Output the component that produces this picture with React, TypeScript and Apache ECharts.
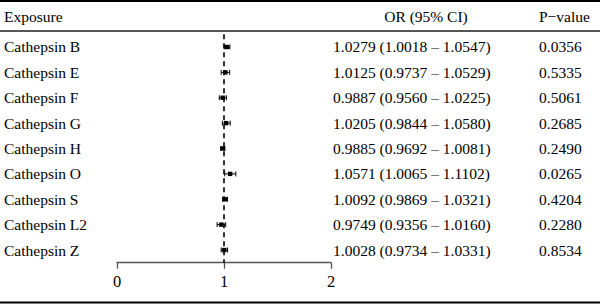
import React, { useEffect, useRef } from "react";
import * as echarts from "echarts";

const exposures = [
  "Cathepsin B",
  "Cathepsin E",
  "Cathepsin F",
  "Cathepsin G",
  "Cathepsin H",
  "Cathepsin O",
  "Cathepsin S",
  "Cathepsin L2",
  "Cathepsin Z",
];
const orValues = [1.0279, 1.0125, 0.9887, 1.0205, 0.9885, 1.0571, 1.0092, 0.9749, 1.0028];
const ciLow = [1.0018, 0.9737, 0.956, 0.9844, 0.9692, 1.0065, 0.9869, 0.9356, 0.9734];
const ciHigh = [1.0547, 1.0529, 1.0225, 1.058, 1.0081, 1.1102, 1.0321, 1.016, 1.0331];
const pValues = ["0.0356", "0.5335", "0.5061", "0.2685", "0.2490", "0.0265", "0.4204", "0.2280", "0.8534"];
const xTicks = [0, 1, 2];

const FONT = "Liberation Serif";
const FS = 15.5;

export default function App() {
  const ref = useRef<HTMLDivElement>(null);
  useEffect(() => {
    if (!ref.current) return;
    const chart = echarts.init(ref.current, null, { renderer: "svg" });
    const orText = orValues.map(
      (v, i) => `${v.toFixed(4)} (${ciLow[i].toFixed(4)} – ${ciHigh[i].toFixed(4)})`
    );
    const data = exposures.map((_, i) => [orValues[i], i, ciLow[i], ciHigh[i]]);
    const gridLeft = 117;
    const gridRight = 600 - 331;
    chart.setOption({
      animation: false,
      textStyle: { fontFamily: FONT },
      grid: { left: gridLeft, right: gridRight, top: 34.3, bottom: 304 - 262.7 },
      xAxis: {
        type: "value",
        min: 0,
        max: 2,
        interval: 1,
        splitLine: { show: false },
        axisLine: { show: true, lineStyle: { color: "#555", width: 1.3 } },
        axisTick: { show: true, length: 6, lineStyle: { color: "#555", width: 1.3 } },
        axisLabel: {
          color: "#000",
          fontFamily: FONT,
          fontSize: 16.5,
          margin: 10,
          formatter: (v: number) => (xTicks.includes(v) ? String(v) : ""),
        },
      },
      yAxis: [
        {
          type: "category",
          data: exposures,
          inverse: true,
          axisLine: { show: false },
          axisTick: { show: false },
          splitLine: { show: false },
          axisLabel: { align: "left", margin: gridLeft - 4, color: "#000", fontFamily: FONT, fontSize: FS },
        },
        {
          type: "category",
          data: exposures,
          inverse: true,
          position: "right",
          axisLine: { show: false },
          axisTick: { show: false },
          splitLine: { show: false },
          axisLabel: {
            align: "left",
            margin: 2,
            color: "#000",
            fontFamily: FONT,
            fontSize: FS,
            formatter: (_v: string, i: number) => orText[i],
          },
        },
        {
          type: "category",
          data: exposures,
          inverse: true,
          position: "right",
          axisLine: { show: false },
          axisTick: { show: false },
          splitLine: { show: false },
          axisLabel: {
            align: "left",
            margin: 539 - 331,
            color: "#000",
            fontFamily: FONT,
            fontSize: FS,
            formatter: (_v: string, i: number) => pValues[i],
          },
        },
      ],
      graphic: [
        { type: "line", shape: { x1: 0, y1: 1, x2: 600, y2: 1 }, style: { stroke: "#000", lineWidth: 2 } },
        { type: "line", shape: { x1: 0, y1: 31, x2: 600, y2: 31 }, style: { stroke: "#555", lineWidth: 2 } },
        { type: "line", shape: { x1: 0, y1: 302.5, x2: 600, y2: 302.5 }, style: { stroke: "#000", lineWidth: 2 } },
        {
          type: "text",
          x: 4,
          y: 16,
          style: { text: "Exposure", font: `${FS}px "${FONT}"`, fill: "#000", textVerticalAlign: "middle" },
        },
        {
          type: "text",
          x: 426,
          y: 16,
          style: {
            text: "OR (95% CI)",
            font: `${FS}px "${FONT}"`,
            fill: "#000",
            textAlign: "center",
            textVerticalAlign: "middle",
          },
        },
        {
          type: "text",
          x: 539,
          y: 16,
          style: { text: "P−value", font: `${FS}px "${FONT}"`, fill: "#000", textVerticalAlign: "middle" },
        },
      ],
      series: [
        {
          type: "custom",
          data,
          encode: { x: 0, y: 1 },
          renderItem: (params: any, api: any) => {
            const y = api.coord([api.value(0), api.value(1)])[1];
            const xc = api.coord([api.value(0), api.value(1)])[0];
            const xl = api.coord([api.value(2), api.value(1)])[0];
            const xh = api.coord([api.value(3), api.value(1)])[0];
            const cap = 2.5;
            const st = { stroke: "#000", lineWidth: 1 };
            return {
              type: "group",
              children: [
                { type: "line", shape: { x1: xl, y1: y, x2: xh, y2: y }, style: st },
                { type: "line", shape: { x1: xl, y1: y - cap, x2: xl, y2: y + cap }, style: st },
                { type: "line", shape: { x1: xh, y1: y - cap, x2: xh, y2: y + cap }, style: st },
                { type: "rect", shape: { x: xc - 2.2, y: y - 2.2, width: 4.4, height: 4.4 }, style: { fill: "#000" } },
              ],
            };
          },
          markLine: {
            silent: true,
            symbol: "none",
            label: { show: false },
            lineStyle: { color: "#000", type: [5, 4], width: 1.6 },
            data: [{ xAxis: 1 }],
          },
          z: 3,
        },
      ],
    });
    return () => chart.dispose();
  }, []);
  return <div ref={ref} style={{ width: 600, height: 304, position: "absolute", left: 0, top: 0 }} />;
}
